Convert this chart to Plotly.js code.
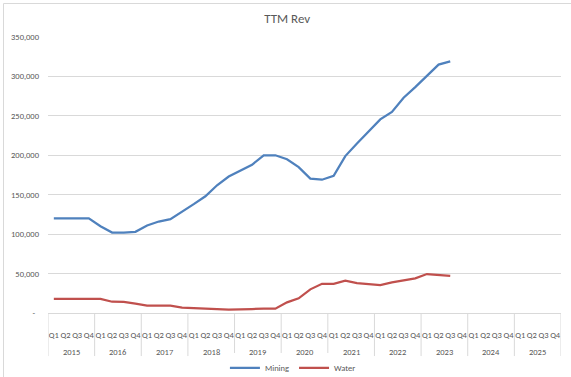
<!DOCTYPE html>
<html>
<head>
<meta charset="utf-8">
<script src="https://cdn.plot.ly/plotly-3.0.1.min.js"></script>
<style>
  html, body { margin: 0; padding: 0; background: #ffffff; }
  #chart { width: 571px; height: 377px; }
</style>
</head>
<body>
<div id="chart"></div>
<script>
// ---- Data ----
var years = ['2015','2016','2017','2018','2019','2020','2021','2022','2023','2024','2025'];
var quarters = ['Q1','Q2','Q3','Q4'];
// TTM revenue, quarterly from 2015 Q1 to 2023 Q3
var mining = [120000,120000,120000,120000,110000,102000,102000,103000,
              111000,116000,119000,128000,138000,148000,162000,173000,
              180000,188000,200000,200000,195000,185000,170500,169000,
              174000,199000,215000,230000,245500,255000,273000,286500,
              301000,315000,319000];
var water  = [18000,18000,18000,18000,18000,14300,14000,11800,
              9300,9300,9300,6800,6500,5500,5000,4200,
              4200,5000,5500,5500,13500,18600,30000,37000,
              37000,41000,38000,36300,35400,38800,41800,44000,
              49400,48000,47000];
var yTickVals = [0,50000,100000,150000,200000,250000,300000,350000];
var yTickText = ['-\u00a0\u00a0','50,000','100,000','150,000','200,000','250,000','300,000','350,000'];

// ---- Build category axis (year + quarter) ----
var cats = [], qText = [];
years.forEach(function(y){ quarters.forEach(function(q){ cats.push(y + ' ' + q); qText.push(q); }); });
function pad(arr){ var out = arr.slice(); while(out.length < cats.length) out.push(null); return out; }

var txtColor = '#595959';
var gridColor = '#d9d9d9';
var fontFam = 'Carlito, Calibri, "Liberation Sans", Arial, sans-serif';

var traces = [
  { type:'scatter', mode:'lines', name:'Mining', x:cats, y:pad(mining),
    line:{color:'#4F81BD', width:2.25}, hoverinfo:'skip' },
  { type:'scatter', mode:'lines', name:'Water', x:cats, y:pad(water),
    line:{color:'#C0504D', width:2.25}, hoverinfo:'skip' }
];

// year group labels and divider lines under the category axis
var annotations = years.map(function(y, i){
  return { text:y, xref:'x', yref:'paper', x:i*quarters.length + (quarters.length-1)/2,
           y:-0.1413, xanchor:'center', yanchor:'middle', showarrow:false,
           font:{family:fontFam, size:8.5, color:txtColor} };
});
var shapes = [];
for (var i = 0; i <= years.length; i++) {
  shapes.push({ type:'line', xref:'x', yref:'paper', x0:i*quarters.length-0.5, x1:i*quarters.length-0.5,
                y0:0, y1:-0.156, line:{color:gridColor, width:1} });
}
// chart-area border (left and top)
shapes.push({type:'line', xref:'paper', yref:'paper', x0:-0.0867, x1:-0.0867, y0:1.1214, y1:-0.25,
             line:{color:gridColor, width:1}});
shapes.push({type:'line', xref:'paper', yref:'paper', x0:-0.0867, x1:1.02, y0:1.1214, y1:1.1214,
             line:{color:gridColor, width:1}});

var layout = {
  width:571, height:377,
  margin:{l:48, r:10, t:37, b:64, pad:0},
  paper_bgcolor:'#ffffff', plot_bgcolor:'#ffffff',
  font:{family:fontFam, size:9, color:txtColor},
  title:{text:'TTM Rev', font:{family:fontFam, size:13, color:txtColor},
         x:0.503, xanchor:'center', y:0.952, yanchor:'middle', yref:'container'},
  showlegend:true,
  legend:{orientation:'h', x:0.513, xanchor:'center', xref:'container',
          y:0.024, yanchor:'middle', yref:'container',
          font:{family:fontFam, size:8.5, color:txtColor}, itemwidth:30, tracegroupgap:0},
  xaxis:{type:'category', range:[-0.5, cats.length-0.5], showgrid:false, zeroline:false,
         showline:true, linecolor:gridColor, linewidth:1,
         tickmode:'array', tickvals:cats, ticktext:qText,
         ticks:'', tickangle:0, ticklabelstandoff:14,
         tickfont:{family:fontFam, size:8.5, color:txtColor}, automargin:false},
  yaxis:{range:[0,350000], tickvals:yTickVals, ticktext:yTickText,
         showgrid:true, gridcolor:gridColor, gridwidth:1, zeroline:false,
         showline:false, ticks:'', ticklabelstandoff:8,
         tickfont:{family:fontFam, size:8.5, color:txtColor}, automargin:false},
  annotations:annotations,
  shapes:shapes
};

Plotly.newPlot('chart', traces, layout, {staticPlot:true, displayModeBar:false});
</script>
</body>
</html>
